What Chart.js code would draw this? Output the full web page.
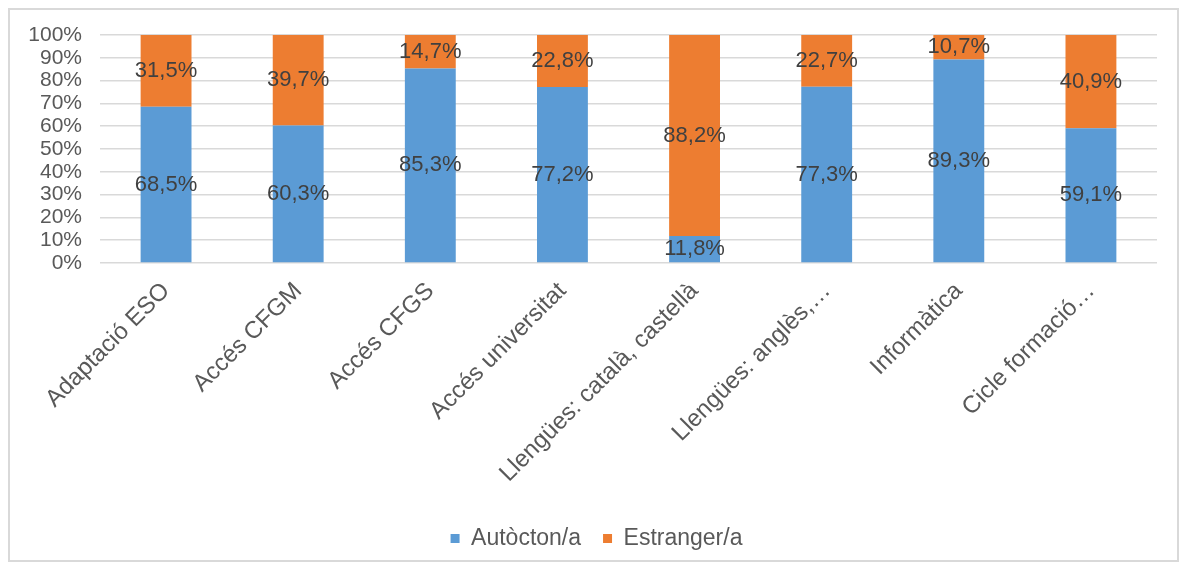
<!DOCTYPE html>
<html>
<head>
<meta charset="utf-8">
<script src="https://cdn.jsdelivr.net/npm/chart.js@4/dist/chart.umd.min.js"></script>
<style>
  html, body { margin: 0; padding: 0; background: #ffffff; }
  #frame { position: absolute; left: 8px; top: 8px; width: 1167px; height: 550px; border: 2px solid #d9d9d9; background: #fff; }
  #wrap { position: absolute; left: 0; top: 0; width: 1167px; height: 550px; }
</style>
</head>
<body>
<div id="frame"><div id="wrap"><canvas id="c"></canvas></div></div>
<script>
const categories = ["Adaptació ESO", "Accés CFGM", "Accés CFGS", "Accés universitat", "Llengües: català, castellà", "Llengües: anglès,…", "Informàtica", "Cicle formació…"];
const autocton = [68.5, 60.3, 85.3, 77.2, 11.8, 77.3, 89.3, 59.1];
const estranger = [31.5, 39.7, 14.7, 22.8, 88.2, 22.7, 10.7, 40.9];
const seriesNames = ["Autòcton/a", "Estranger/a"];
const yTicks = [0, 10, 20, 30, 40, 50, 60, 70, 80, 90, 100];

const FONT = "'Liberation Sans', Arial, sans-serif";
const TXT = "#595959";

const labelPlugin = {
  id: 'segLabels',
  afterLayout(chart) {
    if (chart.legend) { chart.legend.left += 13; chart.legend.right += 13; }
  },
  afterDatasetsDraw(chart) {
    const ctx = chart.ctx;
    ctx.save();
    ctx.font = "22px " + FONT;
    ctx.fillStyle = "#404040";
    ctx.textAlign = "center";
    ctx.textBaseline = "middle";
    chart.data.datasets.forEach((ds, di) => {
      const meta = chart.getDatasetMeta(di);
      meta.data.forEach((bar, i) => {
        const v = ds.data[i];
        const p = bar.getProps(['x', 'y', 'base'], true);
        const yc = (p.y + p.base) / 2;
        ctx.fillText(v.toFixed(1).replace('.', ',') + '%', p.x, yc);
      });
    });
    ctx.restore();
  }
};

new Chart(document.getElementById('c'), {
  type: 'bar',
  data: {
    labels: categories,
    datasets: [
      { label: seriesNames[0], data: autocton, backgroundColor: '#5B9BD5', borderWidth: 0, barPercentage: 0.55, categoryPercentage: 0.7 },
      { label: seriesNames[1], data: estranger, backgroundColor: '#ED7D31', borderWidth: 0, barPercentage: 0.55, categoryPercentage: 0.7 }
    ]
  },
  options: {
    responsive: true,
    maintainAspectRatio: false,
    animation: false,
    layout: { padding: { left: 0, right: 20, top: 25, bottom: 0 } },
    plugins: {
      tooltip: { enabled: false },
      legend: {
        position: 'bottom',
        labels: {
          font: { family: FONT, size: 23 },
          color: TXT,
          boxWidth: 9,
          boxHeight: 9,
          padding: 22
        }
      }
    },
    scales: {
      x: {
        stacked: true,
        grid: { display: false, drawTicks: false },
        border: { display: false },
        ticks: {
          font: { family: FONT, size: 24 },
          color: TXT,
          minRotation: 45,
          maxRotation: 45,
          autoSkip: false,
          padding: 14
        },
        afterFit(s) { s.height = 242; s.paddingTop = 0; s.paddingBottom = 0; }
      },
      y: {
        stacked: true,
        min: 0,
        max: 100,
        afterBuildTicks(s) { s.ticks = yTicks.map(v => ({ value: v })); },
        grid: { color: '#d9d9d9', lineWidth: 1.5, drawTicks: false },
        border: { display: false },
        ticks: {
          font: { family: FONT, size: 21 },
          color: TXT,
          padding: 18,
          autoSkip: false,
          callback: v => v + '%'
        },
        afterFit(s) { s.width = 90; s.paddingTop = 0; s.paddingBottom = 0; }
      }
    }
  },
  plugins: [labelPlugin]
});
</script>
</body>
</html>
